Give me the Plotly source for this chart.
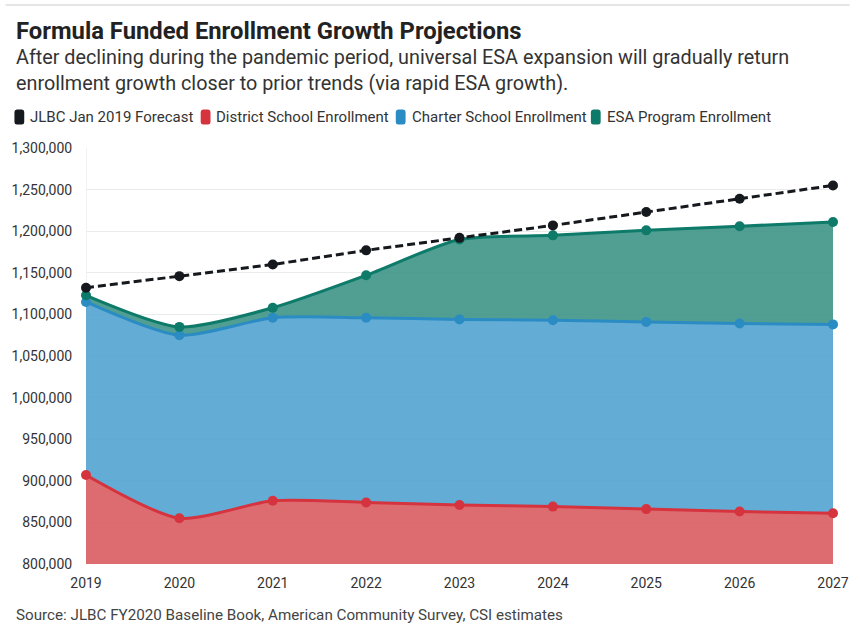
import plotly.graph_objects as go

# --- data -------------------------------------------------------------
years = [2019, 2020, 2021, 2022, 2023, 2024, 2025, 2026, 2027]

jlbc_forecast = [1132000, 1146000, 1160000, 1177000, 1192000, 1207000, 1223000, 1239000, 1255000]
district_enrollment = [907000, 855000, 876000, 874000, 871000, 869000, 866000, 863000, 861000]
charter_enrollment = [208000, 220000, 220000, 222000, 223000, 224000, 225000, 226000, 227000]
esa_enrollment = [8000, 10000, 12000, 51000, 96000, 102000, 110000, 117000, 123000]

series_names = [
    "JLBC Jan 2019 Forecast",
    "District School Enrollment",
    "Charter School Enrollment",
    "ESA Program Enrollment",
]
y_ticks = [800000, 850000, 900000, 950000, 1000000, 1050000, 1100000,
           1150000, 1200000, 1250000, 1300000]

title_text = "Formula Funded Enrollment Growth Projections"
subtitle_text = ("After declining during the pandemic period, universal ESA expansion will gradually return<br>"
                 "enrollment growth closer to prior trends (via rapid ESA growth).")
source_text = "Source: JLBC FY2020 Baseline Book, American Community Survey, CSI estimates"

# --- styling ----------------------------------------------------------
FONT = "Roboto, 'Noto Sans', sans-serif"
line_colors = ["#15191e", "#d5343f", "#2b8cc4", "#0e7a69"]
fill_colors = ["rgba(0,0,0,0)", "rgba(217,92,98,0.9)", "rgba(82,163,208,0.9)", "rgba(61,149,134,0.9)"]

W, H = 861, 629
L, R, T, B = 82, 17, 148, 65
plot_w = W - L - R
plot_h = H - T - B


def px_x(px):
    return (px - L) / plot_w


def px_y(py):
    return (H - B - py) / plot_h


def rounded_rect_path(x0, y0, x1, y1, r):
    """SVG path (paper coords) for a rounded rectangle given in pixels."""
    pts = [
        ("M", x0 + r, y0), ("L", x1 - r, y0), ("Q", x1, y0, x1, y0 + r),
        ("L", x1, y1 - r), ("Q", x1, y1, x1 - r, y1), ("L", x0 + r, y1),
        ("Q", x0, y1, x0, y1 - r), ("L", x0, y0 + r), ("Q", x0, y0, x0 + r, y0),
    ]
    parts = []
    for p in pts:
        cmd, coords = p[0], p[1:]
        xy = []
        for i in range(0, len(coords), 2):
            xy.append(f"{px_x(coords[i]):.5f},{px_y(coords[i + 1]):.5f}")
        parts.append(cmd + " ".join(xy))
    return " ".join(parts) + " Z"


fig = go.Figure()

stack = [district_enrollment, charter_enrollment, esa_enrollment]
for i, vals in enumerate(stack, start=1):
    fig.add_trace(go.Scatter(
        x=years, y=vals, name=series_names[i],
        stackgroup="enrollment",
        mode="lines+markers",
        line=dict(color=line_colors[i], width=3, shape="spline", smoothing=0.7),
        fillcolor=fill_colors[i],
        marker=dict(color=line_colors[i], size=10),
        cliponaxis=False,
        showlegend=False,
        hoverinfo="skip",
    ))

fig.add_trace(go.Scatter(
    x=years, y=jlbc_forecast, name=series_names[0],
    mode="lines+markers",
    line=dict(color=line_colors[0], width=3, dash="8px,4px"),
    marker=dict(color=line_colors[0], size=10),
    cliponaxis=False,
    showlegend=False,
    hoverinfo="skip",
))

# --- legend row: swatches and labels ---------------------------------
legend_swatch_x = [14, 204, 403, 602]
legend_text_x = [23, 213, 412, 611]
shapes = []
annotations = []
legend_y = 117
for name, color, sx, tx in zip(series_names, line_colors, legend_swatch_x, legend_text_x):
    shapes.append(dict(
        type="path", xref="paper", yref="paper",
        path=rounded_rect_path(sx - 5, legend_y - 7.5, sx + 5, legend_y + 7.5, 2.5),
        fillcolor=color, line=dict(width=0), layer="above",
    ))
    annotations.append(dict(
        text=name, xref="paper", yref="paper",
        x=px_x(tx), y=px_y(legend_y), xanchor="left", yanchor="middle",
        showarrow=False, font=dict(family=FONT, size=15, color="#333333"),
    ))

# top rule
shapes.append(dict(
    type="line", xref="paper", yref="paper",
    x0=px_x(0), x1=px_x(W), y0=px_y(5), y1=px_y(5),
    line=dict(color="#dddddd", width=1.5),
))

annotations += [
    dict(text="<b>" + title_text + "</b>", xref="paper", yref="paper",
         x=px_x(9), y=px_y(31), xanchor="left", yanchor="middle", showarrow=False,
         font=dict(family=FONT, size=23.8, color="#222222")),
    dict(text=subtitle_text, xref="paper", yref="paper", align="left",
         x=px_x(9), y=px_y(70), xanchor="left", yanchor="middle", showarrow=False,
         font=dict(family=FONT, size=19.8, color="#333333")),
    dict(text=source_text, xref="paper", yref="paper",
         x=px_x(9), y=px_y(615), xanchor="left", yanchor="middle", showarrow=False,
         font=dict(family=FONT, size=15.2, color="#444444")),
]

fig.update_layout(
    width=W, height=H,
    margin=dict(l=L, r=R, t=T, b=B),
    paper_bgcolor="white", plot_bgcolor="white",
    font=dict(family=FONT, color="#333333"),
    shapes=shapes, annotations=annotations,
    showlegend=False,
    xaxis=dict(
        range=[2019, 2027], tickvals=years, ticktext=[str(y) for y in years],
        showgrid=False, zeroline=False, showline=False,
        ticks="outside", ticklen=6, tickcolor="rgba(0,0,0,0)",
        tickfont=dict(family=FONT, size=14, color="#333333"),
    ),
    yaxis=dict(
        range=[800000, 1300000], tickvals=y_ticks, tickformat=",",
        showgrid=True, gridcolor="#ececec", gridwidth=1,
        zeroline=False, showline=False,
        ticks="outside", ticklen=10, tickcolor="rgba(0,0,0,0)",
        tickfont=dict(family=FONT, size=14, color="#333333"),
    ),
)

# light vertical rule at the first year
fig.add_shape(type="line", xref="x", yref="paper", x0=2019, x1=2019, y0=0, y1=1,
              line=dict(color="#e6e6e6", width=1), layer="below")

fig.write_html("out.html")
